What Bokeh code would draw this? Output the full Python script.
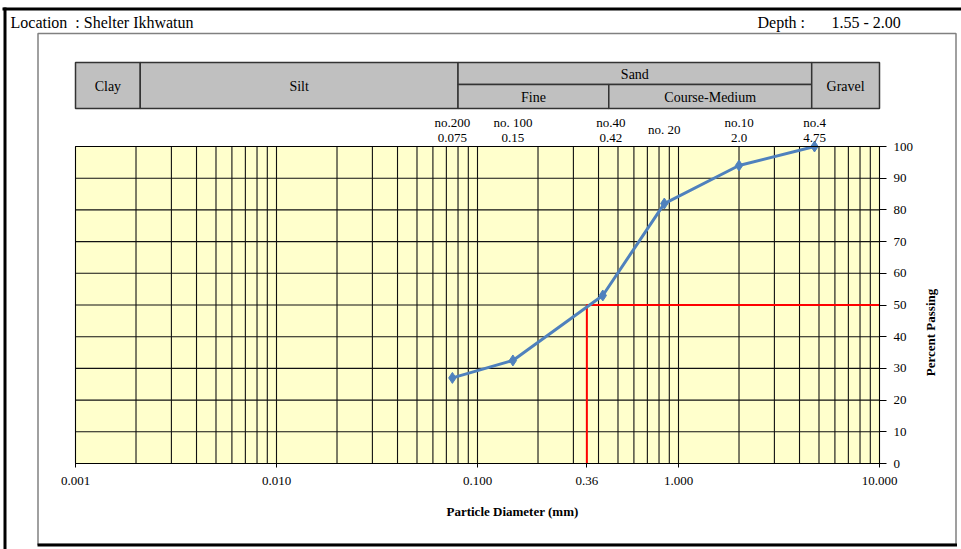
import math
from bokeh.plotting import figure
from bokeh.models import Range1d, FixedTicker
from bokeh.core.properties import value
from bokeh.embed import file_html
from bokeh.resources import INLINE

# ---------------- data ----------------
sieve_sizes = [0.075, 0.15, 0.42, 0.85, 2.0, 4.75]
percent_passing = [27.0, 32.5, 53.0, 82.0, 94.0, 100.0]
sieve_names = ["no.200", "no. 100", "no.40", "no. 20", "no.10", "no.4"]
sieve_size_labels = ["0.075", "0.15", "0.42", "", "2.0", "4.75"]

d50 = 0.35
d50_percent = 50
d50_label = "0.36"

x_ticks = [0.001, 0.01, 0.1, d50, 1.0, 10.0]
x_tick_labels = ["0.001", "0.010", "0.100", d50_label, "1.000", "10.000"]
y_ticks = [0, 10, 20, 30, 40, 50, 60, 70, 80, 90, 100]

header_bounds = [0.001, 0.0021, 0.08, 0.45, 4.6, 10.0]
header_names = ["Clay", "Silt", "Sand", "Gravel"]
sand_sub_names = ["Fine", "Course-Medium"]

location_text = "Location\u00a0\u00a0: Shelter Ikhwatun"
depth_text = "Depth :"
depth_value = "1.55 - 2.00"
x_title = "Particle Diameter (mm)"
y_title = "Percent Passing"

# ---------------- layout ----------------
FONT = "Liberation Serif"
W, H = 961, 549
X_MIN, X_MAX = 0.001, 10.0
Y_MIN, Y_MAX = 0, 100
PX_LEFT, PX_RIGHT = 75, 879      # pixel columns of X_MIN / X_MAX
PY_BOTTOM, PY_TOP = 463, 146     # pixel rows of Y_MIN / Y_MAX
DEC = (PX_RIGHT - PX_LEFT) / math.log10(X_MAX / X_MIN)
UNIT = (PY_BOTTOM - PY_TOP) / (Y_MAX - Y_MIN)

def fx(px):
    return X_MIN * 10 ** ((px - PX_LEFT) / DEC)

def fy(py):
    return Y_MIN + (PY_BOTTOM - py) / UNIT

p = figure(width=W, height=H, x_axis_type="log",
           x_range=Range1d(fx(0), fx(W)), y_range=Range1d(fy(H), fy(0)),
           y_axis_location="right", output_backend="svg", toolbar_location=None,
           min_border=0, min_border_left=0, min_border_right=0,
           min_border_top=0, min_border_bottom=0)
p.title.visible = False
p.background_fill_color = "white"
p.border_fill_color = "white"
p.outline_line_color = None
p.xgrid.visible = False
p.ygrid.visible = False

# ---------------- page frame ----------------
p.quad(left=[fx(2)], right=[fx(W)], top=[fy(7)], bottom=[fy(10)],
       fill_color="black", line_color=None)
p.quad(left=[fx(3)], right=[fx(6)], top=[fy(7)], bottom=[fy(H)],
       fill_color="black", line_color=None)
p.quad(left=[fx(37.5)], right=[fx(955.5)], top=[fy(33)], bottom=[fy(544)],
       fill_alpha=0, line_color="#808080", line_width=1.5)
p.quad(left=[fx(37)], right=[fx(956.5)], top=[fy(543)], bottom=[fy(546)],
       fill_color="black", line_color=None)

# ---------------- plot area ----------------
p.quad(left=[X_MIN], right=[X_MAX], bottom=[Y_MIN], top=[Y_MAX],
       fill_color="#FFFFCC", line_color=None)
grid_x = [m * 10.0 ** e for e in range(-3, 1) for m in range(1, 10)] + [X_MAX]
p.segment(x0=grid_x, y0=[Y_MIN] * len(grid_x), x1=grid_x, y1=[Y_MAX] * len(grid_x),
          line_color="#111111", line_width=1.1)
p.segment(x0=[X_MIN] * len(y_ticks), y0=y_ticks, x1=[X_MAX] * len(y_ticks), y1=y_ticks,
          line_color="#111111", line_width=1.1)

# D50 red lines
p.line([d50, d50, X_MAX], [Y_MIN, d50_percent, d50_percent], line_color="#FF0000", line_width=2)

# grading curve
p.line(sieve_sizes, percent_passing, line_color="#4F81BD", line_width=3)
p.scatter(sieve_sizes, percent_passing, marker="diamond", size=11,
          fill_color="#4F81BD", line_color="#4F81BD")

# ---------------- axes (fixed inside the frame) ----------------
xa = p.xaxis[0]
xa.fixed_location = Y_MIN
xa.bounds = (X_MIN, X_MAX)
xa.ticker = FixedTicker(ticks=x_ticks)
xa.major_label_overrides = dict(zip(x_ticks, x_tick_labels))
xa.major_tick_out = 4
xa.major_tick_in = 0
xa.minor_tick_line_color = None
xa.axis_line_color = "black"
xa.major_tick_line_color = "black"
xa.major_label_standoff = 9
xa.major_label_text_font = FONT
xa.major_label_text_font_size = "13px"
xa.major_label_text_color = "black"

ya = p.yaxis[0]
ya.fixed_location = X_MAX
ya.bounds = (Y_MIN, Y_MAX)
ya.ticker = FixedTicker(ticks=y_ticks)
ya.major_tick_out = 7
ya.major_tick_in = 0
ya.minor_tick_line_color = None
ya.axis_line_color = "black"
ya.major_tick_line_color = "black"
ya.major_label_standoff = 7
ya.major_label_text_font = FONT
ya.major_label_text_font_size = "13px"
ya.major_label_text_color = "black"

# plot area outline
p.quad(left=[X_MIN], right=[X_MAX], bottom=[Y_MIN], top=[Y_MAX],
       fill_alpha=0, line_color="black", line_width=1)

# ---------------- header (size classes) ----------------
b = header_bounds
h_top, h_mid, h_bot = fy(62), fy(84), fy(108)
cell_left = [b[0], b[1], b[2], b[2], b[3], b[4]]
cell_right = [b[1], b[2], b[4], b[3], b[4], b[5]]
cell_top = [h_top, h_top, h_top, h_mid, h_mid, h_top]
cell_bottom = [h_bot, h_bot, h_mid, h_bot, h_bot, h_bot]
p.quad(left=cell_left, right=cell_right, top=cell_top, bottom=cell_bottom,
       fill_color="#C0C0C0", line_color="#333333", line_width=1.5)

def gmean(a, c):
    return math.sqrt(a * c)

hx = [gmean(b[0], b[1]), gmean(b[1], b[2]), gmean(b[2], b[4]), gmean(b[4], b[5]),
      gmean(b[2], b[3]), gmean(b[3], b[4])]
hy = [fy(86), fy(86), fy(74), fy(86), fy(97), fy(97)]
p.text(x=hx, y=hy, text=header_names + sand_sub_names,
       text_font=value(FONT), text_font_size="14px", text_align="center",
       text_baseline="middle", text_color="black")

# sieve labels
nx, ny, nt, noff = [], [], [], []
for xs, nm, sz in zip(sieve_sizes, sieve_names, sieve_size_labels):
    off = 8 if nm == "no.40" else 0
    if sz:
        nx += [xs, xs]; ny += [fy(122), fy(137)]; nt += [nm, sz]; noff += [off, off]
    else:
        nx += [xs]; ny += [fy(129)]; nt += [nm]; noff += [off]
p.text(x=nx, y=ny, text=nt, x_offset=noff, text_font=value(FONT), text_font_size="13px",
       text_align="center", text_baseline="middle", text_color="black")

# page titles
p.text(x=[fx(10), fx(757), fx(831)], y=[fy(21.5)] * 3,
       text=[location_text, depth_text, depth_value],
       text_font=value(FONT), text_font_size="16px", text_align="left",
       text_baseline="middle", text_color="black")

# axis titles
p.text(x=[fx(512)], y=[fy(511)], text=[x_title], text_font=value(FONT),
       text_font_size="13px", text_font_style="bold", text_align="center",
       text_baseline="middle", text_color="black")
p.text(x=[fx(930)], y=[fy(332)], text=[y_title], angle=math.pi / 2, text_font=value(FONT),
       text_font_size="13px", text_font_style="bold", text_align="center",
       text_baseline="middle", text_color="black")

open("out.html", "w").write(file_html(p, INLINE))
